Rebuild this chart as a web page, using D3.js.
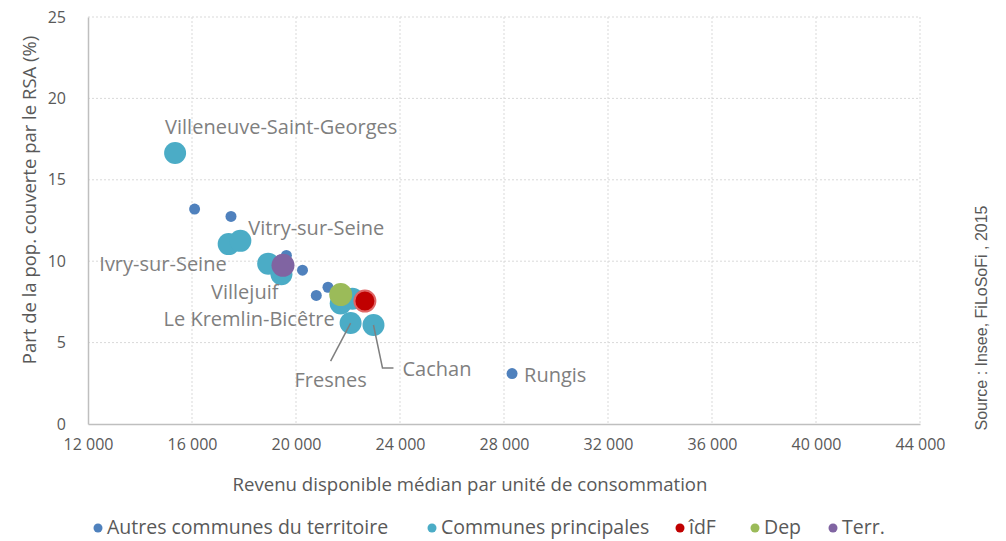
<!DOCTYPE html>
<html>
<head>
<meta charset="utf-8">
<script src="https://cdn.jsdelivr.net/npm/d3@7"></script>
<style>
  body { margin: 0; background: #fff; }
  svg { display: block; font-family: "Open Sans", sans-serif; }
</style>
</head>
<body>
<svg id="chart" width="1006" height="541"></svg>
<script>
// Revenu disponible médian (x) vs part de la pop. couverte par le RSA (y)

var xTicks = [12000, 16000, 20000, 24000, 28000, 32000, 36000, 40000, 44000];
var yTicks = [0, 5, 10, 15, 20, 25];

// autres communes du territoire
var autresRevenu = [16100, 17500, 19630, 20250, 21230, 20780, 28310];
var autresRsa    = [13.2, 12.75, 10.35, 9.45, 8.4, 7.9, 3.1];
var autresNoms   = ["", "", "", "", "", "", "Rungis"];

// communes principales
var principalesNoms   = ["Villeneuve-Saint-Georges", "Ivry-sur-Seine", "Vitry-sur-Seine", "", "Villejuif", "Le Kremlin-Bicêtre", "", "Fresnes", "Cachan"];
var principalesRevenu = [15350, 17410, 17860, 18930, 19440, 21720, 22170, 22100, 22980];
var principalesRsa    = [16.65, 11.05, 11.25, 9.85, 9.2, 7.4, 7.7, 6.2, 6.08];

// références
var idfRevenu = [22650], idfRsa = [7.55];
var depRevenu = [21720], depRsa = [7.95];
var terrRevenu = [19500], terrRsa = [9.75];

var legendNames = ["Autres communes du territoire", "Communes principales", "îdF", "Dep", "Terr."];

var margin = {top: 17, right: 86, bottom: 117, left: 88},
    width = 1006 - margin.left - margin.right,
    height = 541 - margin.top - margin.bottom;

var svg = d3.select("#chart");

var x = d3.scaleLinear().domain([12000, 44000]).range([0, width]);
var y = d3.scaleLinear().domain([0, 25]).range([height, 0]);

var fr = d3.formatLocale({decimal: ",", thousands: "\u00a0", grouping: [3], currency: ["", " €"]});
var fmt = fr.format(",d");

var g = svg.append("g").attr("transform", "translate(" + margin.left + "," + margin.top + ")");

// grid
g.selectAll(".vgrid")
  .data(xTicks.slice(1))
  .enter().append("line")
  .attr("x1", function(d) { return x(d); })
  .attr("x2", function(d) { return x(d); })
  .attr("y1", 0).attr("y2", height)
  .style("stroke", "#d9d9d9").style("stroke-dasharray", "2,2");

g.selectAll(".hgrid")
  .data(yTicks.slice(1))
  .enter().append("line")
  .attr("x1", 0).attr("x2", width)
  .attr("y1", function(d) { return y(d); })
  .attr("y2", function(d) { return y(d); })
  .style("stroke", "#d9d9d9").style("stroke-dasharray", "2,2");

// axes
var xAxis = g.append("g")
  .attr("transform", "translate(0," + height + ")")
  .call(d3.axisBottom(x).tickValues(xTicks).tickFormat(fmt).tickSize(0).tickPadding(15));
var yAxis = g.append("g")
  .call(d3.axisLeft(y).tickValues(yTicks).tickSize(0).tickPadding(22));

[xAxis, yAxis].forEach(function(a) {
  a.select(".domain").style("stroke", "#bfbfbf").style("stroke-width", 1.5);
  a.selectAll("text").style("font-size", "16px").style("fill", "#595959").style("font-family", "'Open Sans', sans-serif");
});

// axis titles
svg.append("text")
  .attr("x", 470).attr("y", 491)
  .attr("text-anchor", "middle")
  .style("font-size", "18.6px").style("fill", "#595959")
  .text("Revenu disponible médian par unité de consommation");

svg.append("text")
  .attr("transform", "translate(36,200) rotate(-90)")
  .attr("text-anchor", "middle")
  .style("font-size", "18.5px").style("fill", "#595959")
  .text("Part de la pop. couverte par le RSA (%)");

svg.append("text")
  .attr("transform", "translate(987,318) rotate(-90)")
  .attr("text-anchor", "middle")
  .style("font-family", "'Liberation Sans', Arial, sans-serif")
  .style("font-size", "16px").style("fill", "#595959")
  .text("Source : Insee, FiLoSoFi , 2015");

// series
function toPoints(xs, ys, names) {
  return xs.map(function(v, i) { return {x: v, y: ys[i], name: names ? names[i] : ""}; });
}

var series = [
  {name: legendNames[1], color: "#4bacc6", r: 11, pts: toPoints(principalesRevenu, principalesRsa, principalesNoms)},
  {name: legendNames[0], color: "#4f81bd", r: 5.5, pts: toPoints(autresRevenu, autresRsa, autresNoms)},
  {name: legendNames[2], color: "#c00000", r: 10.5, stroke: "#e06666", pts: toPoints(idfRevenu, idfRsa)},
  {name: legendNames[3], color: "#9bbb59", r: 11.5, pts: toPoints(depRevenu, depRsa)},
  {name: legendNames[4], color: "#8064a2", r: 11.5, pts: toPoints(terrRevenu, terrRsa)}
];

series.forEach(function(s) {
  g.append("g").selectAll("circle")
    .data(s.pts)
    .enter().append("circle")
    .attr("cx", function(d) { return x(d.x); })
    .attr("cy", function(d) { return y(d.y); })
    .attr("r", s.r)
    .style("fill", s.color)
    .style("stroke", s.stroke || "none")
    .style("stroke-width", s.stroke ? 2 : 0);
});

// data labels: pixel offset from the point, anchor, optional leader line
var labelLayout = {
  "Villeneuve-Saint-Georges": {dx: -10, dy: -19, anchor: "start"},
  "Ivry-sur-Seine": {dx: -2, dy: 27, anchor: "end"},
  "Vitry-sur-Seine": {dx: 8, dy: -6, anchor: "start"},
  "Villejuif": {dx: -3, dy: 25, anchor: "end"},
  "Le Kremlin-Bicêtre": {dx: -6, dy: 22, anchor: "end"},
  "Fresnes": {dx: -20, dy: 64, anchor: "middle", leader: [[0, 0], [-20, 38]]},
  "Cachan": {dx: 29, dy: 51, anchor: "start", leader: [[0, 0], [9, 43], [20, 43]]},
  "Rungis": {dx: 12, dy: 8, anchor: "start"}
};

var labelled = [];
series.slice(0, 2).forEach(function(s) {
  s.pts.forEach(function(p) { if (p.name) labelled.push(p); });
});

labelled.forEach(function(p) {
  var L = labelLayout[p.name];
  var px = x(p.x), py = y(p.y);
  if (L.leader) {
    g.append("path")
      .attr("d", d3.line()(L.leader.map(function(o) { return [px + o[0], py + o[1]]; })))
      .style("fill", "none").style("stroke", "#7f7f7f").style("stroke-width", 1.5);
  }
  g.append("text")
    .attr("x", px + L.dx).attr("y", py + L.dy)
    .attr("text-anchor", L.anchor)
    .style("font-size", "20px").style("fill", "#7f7f7f")
    .text(p.name);
});

// legend
var legendColors = ["#4f81bd", "#4bacc6", "#c00000", "#9bbb59", "#8064a2"];
var legendX = [98, 432, 680, 755, 833];
var lg = svg.append("g");
legendNames.forEach(function(n, i) {
  lg.append("circle").attr("cx", legendX[i]).attr("cy", 528).attr("r", 4.5).style("fill", legendColors[i]);
  lg.append("text").attr("x", legendX[i] + 9).attr("y", 534)
    .style("font-size", "19.5px").style("fill", "#595959").text(n);
});
</script>
</body>
</html>
